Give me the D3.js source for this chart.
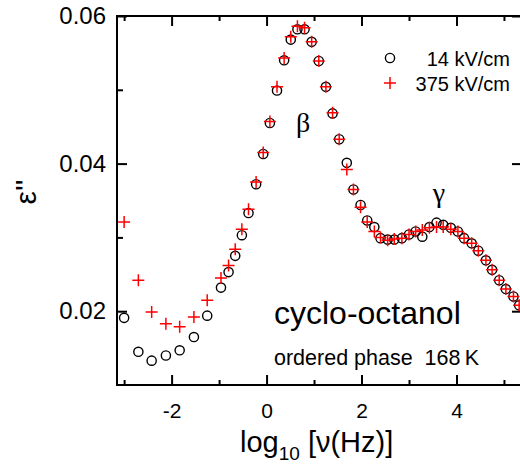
<!DOCTYPE html>
<html lang="en">
<head>
    <meta charset="UTF-8">
    <title>cyclo-octanol loss spectrum</title>
    <script src="https://cdn.jsdelivr.net/npm/d3@7/dist/d3.min.js"></script>
    <style>
        body { margin: 0; background: #fff; }
        text { font-family: "Liberation Sans", Arial, sans-serif; fill: #000; }
    </style>
</head>
<body>
    <svg id="chart" width="520" height="472"></svg>
    <script>
        // log10 of frequency (Hz), shared by both field strengths
        const logFreq = [-3.0, -2.7, -2.42, -2.12, -1.83, -1.53, -1.25, -0.96, -0.8, -0.66,
            -0.52, -0.38, -0.22, -0.07, 0.07, 0.22, 0.37, 0.51, 0.65, 0.8,
            0.95, 1.1, 1.25, 1.39, 1.53, 1.69, 1.83, 1.98, 2.12, 2.27,
            2.4, 2.55, 2.69, 2.85, 3.0, 3.14, 3.28, 3.43, 3.58, 3.72,
            3.88, 4.03, 4.16, 4.32, 4.46, 4.62, 4.75, 4.9, 5.04, 5.2, 5.32];

        // dielectric loss at 14 kV/cm
        const eps14 = [0.0191, 0.0145, 0.0133, 0.0140, 0.0147, 0.0165, 0.0194, 0.0232, 0.0253, 0.0275,
            0.0303, 0.0333, 0.0372, 0.0413, 0.0455, 0.0499, 0.0540, 0.0568, 0.0582, 0.0582,
            0.0565, 0.0539, 0.0504, 0.0468, 0.0433, 0.0401, 0.0365, 0.0344, 0.0323, 0.0314,
            0.0299, 0.0297, 0.0297, 0.0299, 0.0304, 0.0308, 0.0301, 0.0314, 0.0320, 0.0317,
            0.0313, 0.0308, 0.0299, 0.0292, 0.0282, 0.0269, 0.0256, 0.0242, 0.0230, 0.0220, 0.0208];

        // dielectric loss at 375 kV/cm
        const eps375 = [0.0321, 0.0242, 0.0199, 0.0183, 0.0179, 0.0192, 0.0215, 0.0245, 0.0262, 0.0284,
            0.0311, 0.0338, 0.0375, 0.0415, 0.0457, 0.0504, 0.0543, 0.0572, 0.0586, 0.0584,
            0.0565, 0.0539, 0.0504, 0.0469, 0.0433, 0.0392, 0.0365, 0.0341, 0.0321, 0.0308,
            0.0300, 0.0296, 0.0298, 0.0299, 0.0304, 0.0308, 0.0310, 0.0313, 0.0314, 0.0314,
            0.0311, 0.0308, 0.0299, 0.0292, 0.0282, 0.0269, 0.0256, 0.0242, 0.0230, 0.0220, 0.0208];

        const xMajor = [-2, 0, 2, 4];
        const xMinor = [-3, -1, 1, 3, 5];
        const yMajor = [0.02, 0.04, 0.06];
        const yMinor = [0.03, 0.05];

        const mLeft = 117, mRight = 522, mTop = 16, mBottom = 385;
        const svg = d3.select("#chart");

        const x = d3.scaleLinear().domain([-3.15, 5.38]).range([mLeft, mRight]);
        const y = d3.scaleLinear().domain([0.01, 0.06]).range([mBottom, mTop]);

        // axes, ticks pointing inward
        const xAxis = svg.append("g").attr("transform", `translate(0,${mBottom})`)
            .call(d3.axisBottom(x).tickValues(xMajor).tickSize(-10).tickPadding(18)
                .tickFormat(d => d < 0 ? "-" + Math.abs(d) : d));
        xAxis.selectAll("text").attr("font-size", 21);
        svg.append("g").attr("transform", `translate(0,${mBottom})`)
            .call(d3.axisBottom(x).tickValues(xMinor).tickSize(-5).tickFormat(""));
        svg.append("g").attr("transform", `translate(0,${mTop})`)
            .call(d3.axisTop(x).tickValues(xMajor).tickSize(-10).tickFormat(""));
        svg.append("g").attr("transform", `translate(0,${mTop})`)
            .call(d3.axisTop(x).tickValues(xMinor).tickSize(-5).tickFormat(""));

        const yAxis = svg.append("g").attr("transform", `translate(${mLeft},0)`)
            .call(d3.axisLeft(y).tickValues(yMajor).tickSize(-10).tickPadding(11)
                .tickFormat(d3.format(".2f")));
        yAxis.selectAll("text").attr("font-size", 24);
        svg.append("g").attr("transform", `translate(${mLeft},0)`)
            .call(d3.axisLeft(y).tickValues(yMinor).tickSize(-6).tickFormat(""));
        svg.append("g").attr("transform", `translate(${mRight},0)`)
            .call(d3.axisRight(y).tickValues(yMajor).tickSize(-10).tickFormat(""));

        svg.selectAll(".domain").remove();
        svg.selectAll(".tick line").attr("stroke", "#000").attr("stroke-width", 2);
        svg.selectAll(".tick text").attr("font-family", null).attr("fill", "#000");

        svg.append("rect")
            .attr("x", mLeft).attr("y", mTop)
            .attr("width", mRight - mLeft).attr("height", mBottom - mTop)
            .attr("fill", "none").attr("stroke", "#000").attr("stroke-width", 2);

        const pts = logFreq.map((f, i) => ({ f, a: eps14[i], b: eps375[i] }));

        svg.append("g").selectAll("circle").data(pts).enter().append("circle")
            .attr("cx", d => x(d.f)).attr("cy", d => y(d.a)).attr("r", 4.6)
            .attr("fill", "none").attr("stroke", "#000").attr("stroke-width", 1.4);

        const plus = "M-6,0H6M0,-6V6";
        svg.append("g").selectAll("path").data(pts).enter().append("path")
            .attr("transform", d => `translate(${x(d.f)},${y(d.b)})`)
            .attr("d", plus).attr("stroke", "#f00").attr("stroke-width", 1.5).attr("fill", "none");

        // legend
        svg.append("circle").attr("cx", 390).attr("cy", 58).attr("r", 4.6)
            .attr("fill", "none").attr("stroke", "#000").attr("stroke-width", 1.4);
        svg.append("path").attr("transform", "translate(390,83)").attr("d", plus)
            .attr("stroke", "#f00").attr("stroke-width", 1.5);
        svg.append("text").attr("x", 510).attr("y", 66).attr("text-anchor", "end")
            .attr("font-size", 20).text("14 kV/cm");
        svg.append("text").attr("x", 510).attr("y", 91).attr("text-anchor", "end")
            .attr("font-size", 20).text("375 kV/cm");

        // peak labels
        svg.append("text").attr("x", 303).attr("y", 132).attr("text-anchor", "middle")
            .style("font-family", "Liberation Serif, Times New Roman, serif")
            .attr("font-size", 28).text("β");
        svg.append("text").attr("x", 439).attr("y", 202).attr("text-anchor", "middle")
            .style("font-family", "Liberation Serif, Times New Roman, serif")
            .attr("font-size", 28).text("γ");

        // sample annotation
        svg.append("text").attr("x", 274).attr("y", 324).attr("font-size", 32).text("cyclo-octanol");
        svg.append("text").attr("x", 274).attr("y", 365).attr("font-size", 21.5)
            .attr("xml:space", "preserve").text("ordered phase  168\u2009K");

        // axis titles
        const xt = svg.append("text").attr("x", 240).attr("y", 452).attr("font-size", 29);
        xt.append("tspan").text("log");
        xt.append("tspan").attr("font-size", 19).attr("dy", 8).text("10");
        xt.append("tspan").attr("dy", -8).text(" [\u03bd(Hz)]");

        svg.append("text").attr("transform", "translate(36,192) rotate(-90)")
            .attr("text-anchor", "middle").attr("font-size", 30).text("\u03b5''");
    </script>
</body>
</html>
